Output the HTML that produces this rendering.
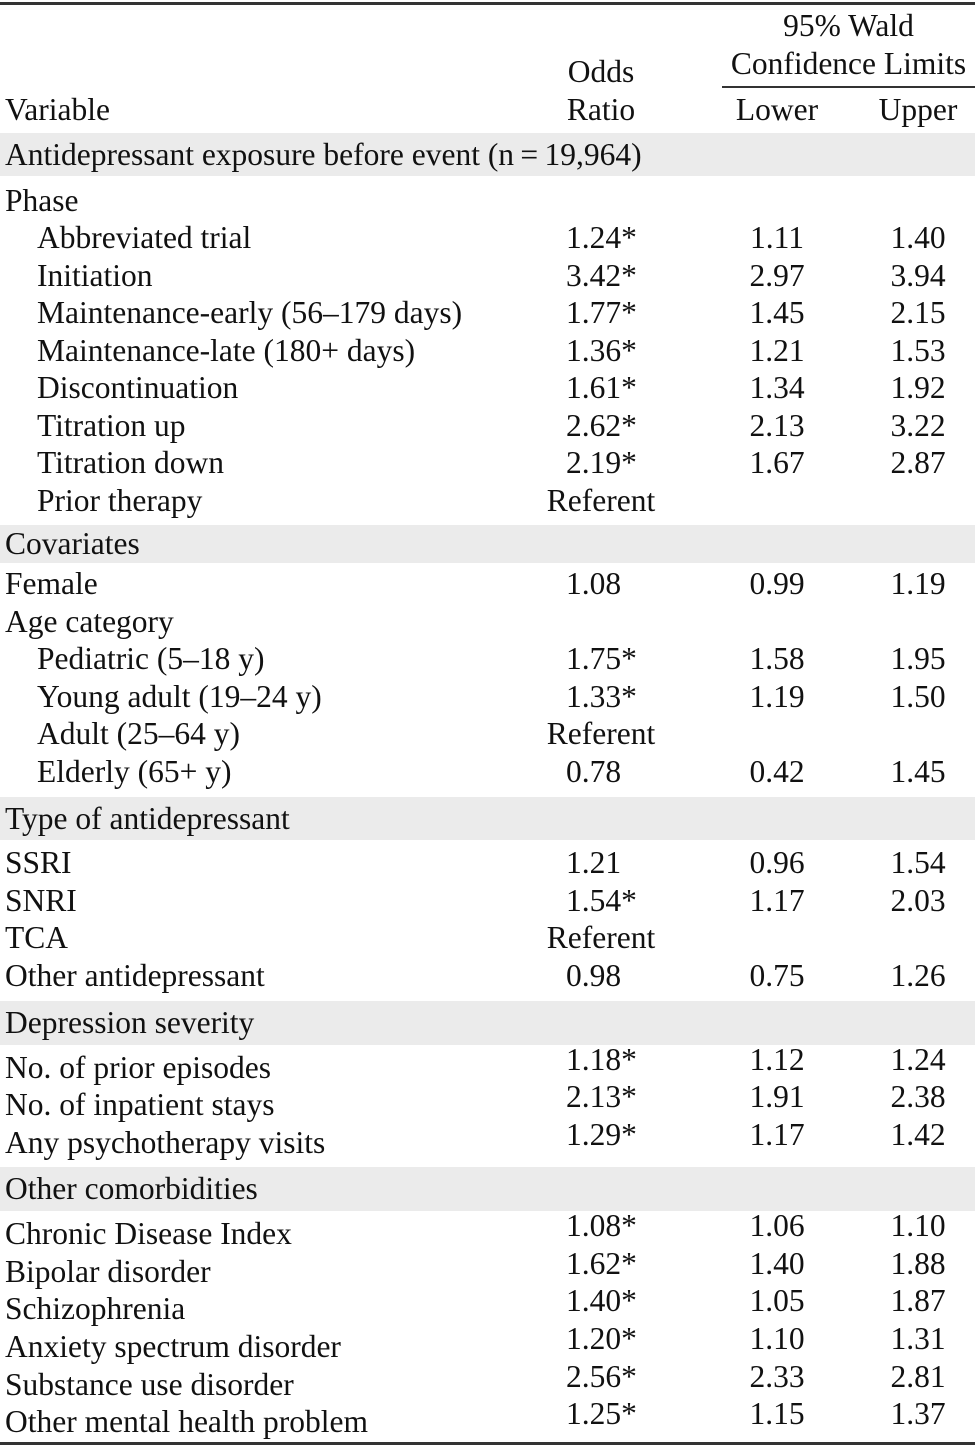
<!DOCTYPE html>
<html><head><meta charset="utf-8">
<style>
html,body{margin:0;padding:0;background:#fff;}
#t{position:relative;width:975px;height:1447px;overflow:hidden;font-family:"Liberation Serif",serif;font-size:31.5px;color:#111;}
.c{position:absolute;line-height:36px;height:36px;white-space:nowrap;}
.band{position:absolute;left:0;width:975px;background:#ebebeb;}
.ln{position:absolute;background:#333;}
</style></head><body>
<div id="t">
<div class="ln" style="left:0;top:2px;width:975px;height:3px"></div>
<div class="ln" style="left:722px;top:86px;width:253px;height:2px"></div>
<div class="ln" style="left:0;top:1442px;width:975px;height:3px"></div>
<div class="c" style="left:722px;width:253px;text-align:center;top:8px">95% Wald</div>
<div class="c" style="left:722px;width:253px;text-align:center;top:46px">Confidence Limits</div>
<div class="c" style="left:540px;width:122px;text-align:center;top:54px">Odds</div>
<div class="c" style="left:540px;width:122px;text-align:center;top:92px">Ratio</div>
<div class="c" style="left:5px;top:92px">Variable</div>
<div class="c" style="left:717px;width:120px;text-align:center;top:92px">Lower</div>
<div class="c" style="left:858px;width:120px;text-align:center;top:92px">Upper</div>
</div>
<script>
const bands=[[133,176,"Antidepressant exposure before event (n\u2009=\u200919,964)"],[525,563,"Covariates"],[797,840,"Type of antidepressant"],[1001,1045,"Depression severity"],[1167,1211,"Other comorbidities"]];
const labels=["Phase","Abbreviated trial","Initiation","Maintenance-early (56\u2013179 days)","Maintenance-late (180+ days)","Discontinuation","Titration up","Titration down","Prior therapy","Female","Age category","Pediatric (5\u201318 y)","Young adult (19\u201324 y)","Adult (25\u201364 y)","Elderly (65+ y)","SSRI","SNRI","TCA","Other antidepressant","No. of prior episodes","No. of inpatient stays","Any psychotherapy visits","Chronic Disease Index","Bipolar disorder","Schizophrenia","Anxiety spectrum disorder","Substance use disorder","Other mental health problem"];
const indent=[0,1,1,1,1,1,1,1,1,0,0,1,1,1,1,0,0,0,0,0,0,0,0,0,0,0,0,0];
const ys=[201,238,276,313,351,388,426,463,501,584,622,659,697,734,772,863,901,938,976,1068,1105,1143,1234,1272,1309,1347,1385,1422];
const odds=["","1.24*","3.42*","1.77*","1.36*","1.61*","2.62*","2.19*","Referent","1.08","","1.75*","1.33*","Referent","0.78","1.21","1.54*","Referent","0.98","1.18*","2.13*","1.29*","1.08*","1.62*","1.40*","1.20*","2.56*","1.25*"];
const lower=["","1.11","2.97","1.45","1.21","1.34","2.13","1.67","","0.99","","1.58","1.19","","0.42","0.96","1.17","","0.75","1.12","1.91","1.17","1.06","1.40","1.05","1.10","2.33","1.15"];
const upper=["","1.40","3.94","2.15","1.53","1.92","3.22","2.87","","1.19","","1.95","1.50","","1.45","1.54","2.03","","1.26","1.24","2.38","1.42","1.10","1.88","1.87","1.31","2.81","1.37"];
const t=document.getElementById('t');
bands.forEach(b=>{
 const d=document.createElement('div');d.className='band';d.style.top=b[0]+'px';d.style.height=(b[1]-b[0])+'px';
 
 
 t.insertBefore(d,t.firstChild);
 const l=document.createElement('div');l.className='c';l.style.left='5px';l.style.top=((b[0]+b[1])/2-18)+'px';l.textContent=b[2];
 
 
 t.appendChild(l);
});
labels.forEach((s,i)=>{
 const y=ys[i];const off=(i>=19)?-8:0;
 const l=document.createElement('div');l.className='c';l.style.left=(indent[i]?37:5)+'px';l.style.top=(y-18)+'px';l.textContent=s;
 
 
 t.appendChild(l);
 const o=document.createElement('div');o.className='c';o.style.top=(y-18+off)+'px';
 o.textContent=odds[i];
 if(odds[i]==="Referent"){o.style.width='120px';o.style.textAlign='center';o.style.left='541px';}else{o.style.left='566px';}
 
 
 t.appendChild(o);
 const lo=document.createElement('div');lo.className='c';lo.style.left='717px';lo.style.width='120px';lo.style.textAlign='center';lo.style.top=(y-18+off)+'px';lo.textContent=lower[i];
 
 
 t.appendChild(lo);
 const up=document.createElement('div');up.className='c';up.style.left='858px';up.style.width='120px';up.style.textAlign='center';up.style.top=(y-18+off)+'px';up.textContent=upper[i];
 
 
 t.appendChild(up);
});
</script>
</body></html>
